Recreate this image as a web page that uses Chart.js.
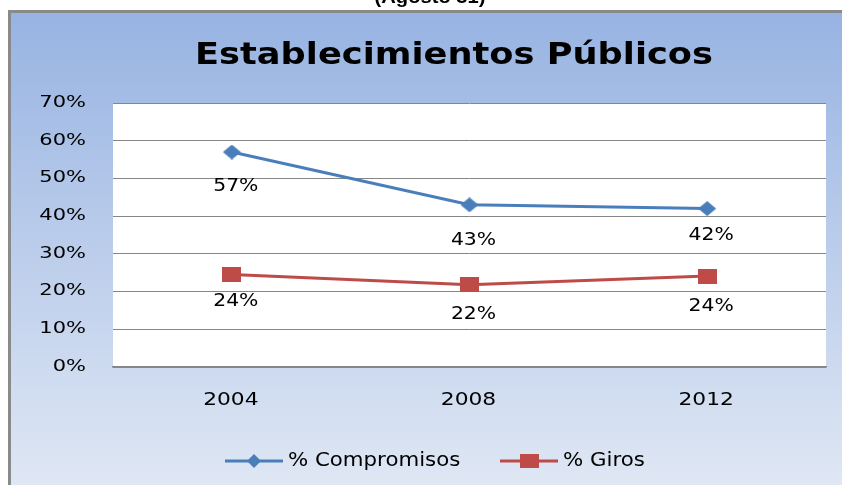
<!DOCTYPE html>
<html>
<head>
<meta charset="utf-8">
<script src="https://cdn.jsdelivr.net/npm/chart.js@4"></script>
<style>
  html, body { margin: 0; padding: 0; background: #fff; }
  #wrap { width: 842px; height: 485px; position: relative; }
</style>
</head>
<body>
<div id="wrap"><canvas id="chart" width="842" height="485"></canvas></div>
<script>
// Data
const years = ['2004', '2008', '2012'];
const compromisos = [0.57, 0.43, 0.42];
const giros = [0.245, 0.218, 0.241];
const compromisosLabels = ['57%', '43%', '42%'];
const girosLabels = ['24%', '22%', '24%'];

const blue = '#4a7ebb';
const red = '#be4b48';
const axisFont = 'DejaVu Sans';

// the source picture is stretched sideways, so text gets a horizontal scale
function stretchText(ctx, text, x, y, sx, align) {
    ctx.save();
    ctx.translate(x, y);
    ctx.scale(sx, 1);
    ctx.textAlign = align;
    ctx.fillText(text, 0, 0);
    ctx.restore();
}

// small canvases used as point markers (wider than tall, like the source)
function marker(w, h, color, diamond) {
    const c = document.createElement('canvas');
    c.width = w; c.height = h;
    const g = c.getContext('2d');
    g.fillStyle = color;
    if (diamond) {
        g.beginPath();
        g.moveTo(w / 2, 0); g.lineTo(w, h / 2); g.lineTo(w / 2, h); g.lineTo(0, h / 2);
        g.closePath(); g.fill();
    } else {
        g.fillRect(0, 0, w, h);
    }
    return c;
}
const diamondMark = marker(18, 15, blue, true);
const squareMark = marker(19, 15, red, false);
const diamondLegend = marker(14, 14, blue, true);
const squareLegend = marker(19, 14, red, false);

// frame + gradient background, title, header text
const background = {
    id: 'background',
    beforeDraw(chart) {
        const ctx = chart.ctx;
        ctx.save();
        ctx.fillStyle = '#fff';
        ctx.fillRect(0, 0, chart.width, chart.height);
        const g = ctx.createLinearGradient(0, 10, 0, chart.height);
        g.addColorStop(0, '#97b3e2');
        g.addColorStop(1, '#dfe7f4');
        ctx.fillStyle = g;
        ctx.fillRect(9, 11, chart.width - 9, chart.height - 11);
        ctx.strokeStyle = '#8a8a8a';
        ctx.lineWidth = 3;
        ctx.strokeRect(9.5, 11.5, chart.width + 10, chart.height + 10);
        const a = chart.chartArea;
        ctx.fillStyle = '#fff';
        ctx.fillRect(a.left, a.top, a.right - a.left, a.bottom - a.top);
        ctx.fillStyle = '#000';
        ctx.textBaseline = 'alphabetic';
        ctx.font = 'bold 18px "Liberation Sans"';
        stretchText(ctx, '(Agosto 31)', 430, 3, 1.12, 'center');
        // title fitted to the width it has in the source
        const title = 'Establecimientos Públicos';
        ctx.font = 'bold 30px "DejaVu Sans"';
        stretchText(ctx, title, 454, 64, 518 / ctx.measureText(title).width, 'center');
        ctx.restore();
    }
};

// axis tick labels, placed from the chart's own scales
const tickText = {
    id: 'tickText',
    afterDraw(chart) {
        const ctx = chart.ctx;
        const x = chart.scales.x, y = chart.scales.y;
        ctx.save();
        ctx.fillStyle = '#000';
        ctx.textBaseline = 'middle';
        ctx.font = '15px ' + axisFont;
        y.ticks.forEach((t, i) => {
            stretchText(ctx, Math.round(t.value * 100) + '%', 86, y.getPixelForTick(i), 1.4, 'right');
        });
        ctx.font = '17px ' + axisFont;
        x.ticks.forEach((t, i) => {
            stretchText(ctx, years[i], x.getPixelForTick(i) - 1, 401, 1.28, 'center');
        });
        ctx.restore();
    }
};

// values under the points
const pointLabels = {
    id: 'pointLabels',
    afterDatasetsDraw(chart) {
        const ctx = chart.ctx;
        const texts = [compromisosLabels, girosLabels];
        const offsets = [[34, 35, 27], [27, 30, 30]];
        ctx.save();
        ctx.font = '18px ' + axisFont;
        ctx.fillStyle = '#000';
        ctx.textBaseline = 'middle';
        chart.data.datasets.forEach((ds, i) => {
            chart.getDatasetMeta(i).data.forEach((pt, j) => {
                stretchText(ctx, texts[i][j], pt.x + 4, pt.y + offsets[i][j], 1.13, 'center');
            });
        });
        ctx.restore();
    }
};

// legend with line + marker
const legendLine = {
    id: 'legendLine',
    afterDraw(chart) {
        const ctx = chart.ctx;
        const y = 461;
        const items = [
            { x: 225, color: blue, mark: diamondLegend, text: '% Compromisos' },
            { x: 500, color: red, mark: squareLegend, text: '% Giros' }
        ];
        ctx.save();
        items.forEach(it => {
            ctx.strokeStyle = it.color;
            ctx.lineWidth = 3;
            ctx.beginPath();
            ctx.moveTo(it.x, y);
            ctx.lineTo(it.x + 58, y);
            ctx.stroke();
            ctx.drawImage(it.mark, it.x + 29 - it.mark.width / 2, y - it.mark.height / 2);
            ctx.fillStyle = '#000';
            ctx.font = '19px ' + axisFont;
            ctx.textBaseline = 'middle';
            stretchText(ctx, it.text, it.x + 63, y, 1.12, 'left');
        });
        ctx.restore();
    }
};

new Chart(document.getElementById('chart'), {
    type: 'line',
    data: {
        labels: years,
        datasets: [
            {
                label: '% Compromisos', data: compromisos,
                borderColor: blue, backgroundColor: blue, borderWidth: 3,
                pointStyle: diamondMark, pointRadius: 8
            },
            {
                label: '% Giros', data: giros,
                borderColor: red, backgroundColor: red, borderWidth: 3,
                pointStyle: squareMark, pointRadius: 9
            }
        ]
    },
    options: {
        responsive: false, animation: false,
        layout: { padding: { left: 0, right: 16, top: 103, bottom: 0 } },
        plugins: { legend: { display: false }, title: { display: false }, tooltip: { enabled: false } },
        scales: {
            x: {
                offset: true,
                grid: { display: false, drawTicks: false },
                border: { display: true, color: '#868686', width: 1.5 },
                ticks: { display: false },
                afterFit(s) { s.height = 118; }
            },
            y: {
                min: 0, max: 0.7,
                grid: { color: '#868686', drawTicks: false },
                border: { display: false },
                ticks: { stepSize: 0.1, display: false },
                afterFit(s) { s.width = 113; }
            }
        }
    },
    plugins: [background, tickText, pointLabels, legendLine]
});
</script>
</body>
</html>
